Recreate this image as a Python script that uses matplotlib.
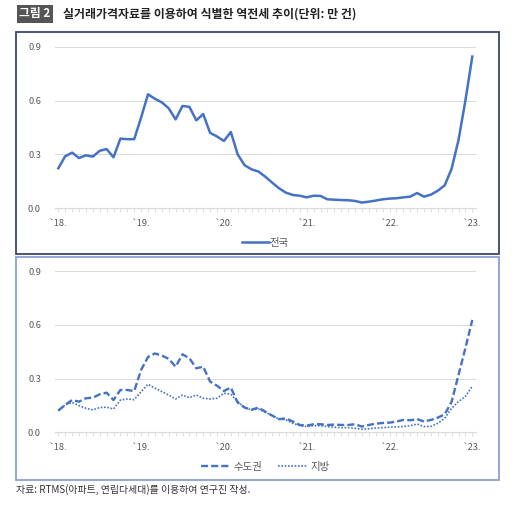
import matplotlib
matplotlib.use("Agg")
import matplotlib.pyplot as plt
from matplotlib.patches import Rectangle
from matplotlib.ticker import MultipleLocator

plt.rcParams['font.family'] = ['Noto Sans CJK KR', 'DejaVu Sans']

# ---- data (monthly, Jan 2018 .. Jan 2023) ----
months = list(range(61))
year_ticks = [0, 12, 24, 36, 48, 60]
year_labels = ["`18.", "`19.", "`20.", "`21.", "`22.", "`23."]

national = [0.223, 0.29, 0.31, 0.28, 0.295, 0.288, 0.32, 0.33, 0.284, 0.388,
            0.385, 0.385, 0.505, 0.635, 0.61, 0.59, 0.557, 0.495, 0.57, 0.565,
            0.49, 0.525, 0.42, 0.40, 0.375, 0.425, 0.30, 0.24, 0.217, 0.205,
            0.176, 0.143, 0.111, 0.087, 0.074, 0.07, 0.061, 0.07, 0.069, 0.05,
            0.048, 0.046, 0.045, 0.041, 0.032, 0.037, 0.043, 0.05, 0.054, 0.056,
            0.061, 0.065, 0.085, 0.065, 0.076, 0.098, 0.128, 0.22, 0.38, 0.60,
            0.845]

capital = [0.121, 0.153, 0.18, 0.171, 0.19, 0.193, 0.212, 0.221, 0.18, 0.236,
           0.236, 0.23, 0.348, 0.42, 0.44, 0.428, 0.41, 0.366, 0.435, 0.413,
           0.357, 0.366, 0.283, 0.26, 0.23, 0.25, 0.166, 0.138, 0.126, 0.138,
           0.115, 0.093, 0.073, 0.078, 0.06, 0.041, 0.037, 0.045, 0.045, 0.041,
           0.043, 0.041, 0.041, 0.045, 0.032, 0.041, 0.048, 0.052, 0.054, 0.06,
           0.069, 0.067, 0.074, 0.06, 0.069, 0.082, 0.10, 0.17, 0.32, 0.47,
           0.627]

regional = [0.12, 0.153, 0.166, 0.149, 0.134, 0.125, 0.138, 0.14, 0.13, 0.18,
            0.186, 0.182, 0.227, 0.268, 0.246, 0.227, 0.208, 0.186, 0.208, 0.193,
            0.208, 0.19, 0.186, 0.19, 0.218, 0.212, 0.171, 0.138, 0.125, 0.13,
            0.112, 0.093, 0.074, 0.069, 0.05, 0.037, 0.032, 0.037, 0.037, 0.032,
            0.028, 0.026, 0.026, 0.022, 0.017, 0.02, 0.024, 0.026, 0.028, 0.03,
            0.032, 0.037, 0.046, 0.032, 0.033, 0.05, 0.078, 0.134, 0.171, 0.20,
            0.258]

y_ticks = [0.0, 0.3, 0.6, 0.9]
y_labels = ["0.0", "0.3", "0.6", "0.9"]

title_tag = "그림 2"
title_text = "실거래가격자료를 이용하여 식별한 역전세 추이(단위: 만 건)"
source_text = "자료: RTMS(아파트, 연립다세대)를 이용하여 연구진 작성."

# ---- figure ----
W, H = 520, 511
fig = plt.figure(figsize=(W / 100, H / 100), dpi=100)
fig.patch.set_facecolor("white")

def fx(px):
    return px / W

def fy(py):
    return 1 - py / H

blue = "#4472C4"
grid_c = "#d9d9d9"
txt_c = "#595959"

# panel boxes
fig.add_artist(Rectangle((fx(16), fy(254)), fx(499) - fx(16), fy(32) - fy(254),
                         transform=fig.transFigure, fill=False,
                         edgecolor="#3a4670", linewidth=1.3, zorder=0))
fig.add_artist(Rectangle((fx(16), fy(480)), fx(499) - fx(16), fy(257) - fy(480),
                         transform=fig.transFigure, fill=False,
                         edgecolor="#8da0d4", linewidth=1.3, zorder=0))

def make_axes(top_px, bottom_px):
    left, right = 54.85, 475.75
    ax = fig.add_axes([fx(left), fy(bottom_px), fx(right) - fx(left),
                       fy(top_px) - fy(bottom_px)])
    ax.set_xlim(-0.5, 60.5)
    ax.set_ylim(0, 0.9)
    for s in ["top", "right", "left"]:
        ax.spines[s].set_visible(False)
    ax.spines["bottom"].set_color(grid_c)
    ax.spines["bottom"].set_linewidth(0.8)
    ax.set_yticks(y_ticks)
    ax.set_yticklabels(y_labels)
    ax.set_xticks(year_ticks)
    ax.set_xticklabels(year_labels)
    ax.xaxis.set_minor_locator(MultipleLocator(1))
    ax.tick_params(axis="y", length=0, pad=10, labelsize=6.7, labelcolor=txt_c)
    ax.tick_params(axis="x", which="both", length=3, width=0.6, color=grid_c,
                   direction="out", labelsize=6.7, labelcolor=txt_c, pad=4.5)
    ax.grid(axis="y", color=grid_c, linewidth=0.7)
    ax.set_axisbelow(True)
    ax.patch.set_alpha(0)
    return ax

ax1 = make_axes(46.7, 208.3)
ax1.plot(months, national, color=blue, linewidth=1.8, solid_joinstyle="round",
         label="전국")
leg1 = ax1.legend(loc="upper center", bbox_to_anchor=(0.5, -0.125), frameon=False,
                  fontsize=7.5, handlelength=2.6, handletextpad=0.1)
for t in leg1.get_texts():
    t.set_color(txt_c)

ax2 = make_axes(271.0, 432.3)
ax2.plot(months, capital, color=blue, linewidth=1.7, linestyle=(0, (3, 1.3)),
         label="수도권")
ax2.plot(months, regional, color=blue, linewidth=1.2, linestyle=(0, (1, 1)),
         label="지방")
leg2 = ax2.legend(loc="upper center", bbox_to_anchor=(0.5, -0.125), frameon=False,
                  fontsize=7.5, ncol=2, handlelength=2.8, handletextpad=0.3,
                  columnspacing=1.5)
for t in leg2.get_texts():
    t.set_color(txt_c)

# title
fig.text(fx(19), fy(14), title_tag, color="white", fontsize=8.5, fontweight="bold",
         va="center", ha="left",
         bbox=dict(boxstyle="square,pad=0.18", facecolor="#555555",
                   edgecolor="none"))
fig.text(fx(63), fy(14), title_text, color="#222222", fontsize=8.6,
         fontweight="bold", va="center", ha="left")

# source
fig.text(fx(16), fy(490), source_text, color="#333333", fontsize=7.1,
         va="center", ha="left")

fig.savefig("out.png", dpi=100, facecolor="white")
